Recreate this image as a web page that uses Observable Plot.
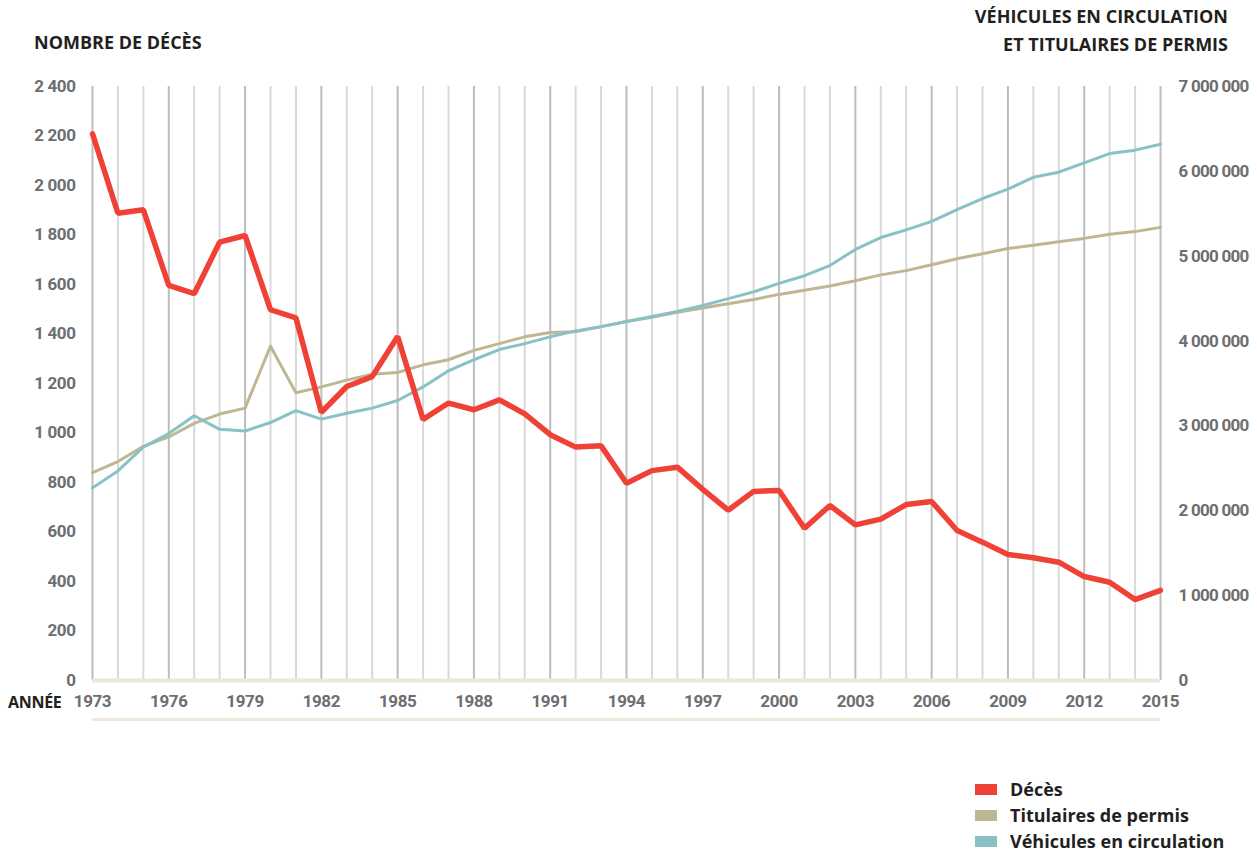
<!DOCTYPE html>
<html>
<head>
<meta charset="utf-8">
<script src="https://cdn.jsdelivr.net/npm/d3@7"></script>
<script src="https://cdn.jsdelivr.net/npm/@observablehq/plot@0.6"></script>
<style>
  html, body { margin: 0; padding: 0; background: #fff; }
  #wrap { position: relative; width: 1257px; height: 854px; background: #fff; font-family: "Open Sans", sans-serif; }
  #chart { position: absolute; left: 0; top: 0; }
  .title { position: absolute; font-weight: 700; font-size: 18px; color: #231f20; white-space: nowrap; }
  .legend { position: absolute; left: 975px; top: 776px; font-weight: 700; font-size: 18px; color: #231f20; }
  .legend div { display: flex; align-items: center; height: 26px; }
  .legend span.sw { display: inline-block; width: 22px; height: 11px; margin-right: 13px; }
  #band2 { position: absolute; left: 92px; top: 718px; width: 1068px; height: 3px; background: #eee8da; }
  #annee { position: absolute; left: 8px; top: 691px; font-family: "Open Sans", sans-serif; font-weight: 700; font-size: 16px; color: #231f20; letter-spacing: -0.3px; }
</style>
</head>
<body>
<div id="wrap">
  <div id="chart"></div>
  <div class="title" style="left:34px; top:30px;">NOMBRE DE DÉCÈS</div>
  <div class="title" style="right:29px; top:2px; text-align:right; line-height:28px;">VÉHICULES EN CIRCULATION<br>ET TITULAIRES DE PERMIS</div>
  <div id="annee">ANNÉE</div>
  <div id="band2"></div>
  <div class="legend" id="legend"></div>
</div>
<script>
const years = [1973,1974,1975,1976,1977,1978,1979,1980,1981,1982,1983,1984,1985,1986,1987,1988,1989,1990,1991,1992,1993,1994,1995,1996,1997,1998,1999,2000,2001,2002,2003,2004,2005,2006,2007,2008,2009,2010,2011,2012,2013,2014,2015];
const deces = [2209,1888,1902,1596,1563,1771,1798,1498,1465,1084,1188,1228,1390,1055,1121,1094,1134,1077,993,943,948,797,848,862,772,688,764,768,615,707,629,652,711,723,606,559,509,496,478,420,397,327,364];
const titulaires = [2450000,2580000,2760000,2870000,3030000,3140000,3210000,3940000,3390000,3460000,3540000,3610000,3630000,3720000,3780000,3890000,3970000,4050000,4100000,4110000,4170000,4230000,4280000,4340000,4390000,4440000,4490000,4550000,4600000,4650000,4710000,4780000,4830000,4900000,4970000,5030000,5090000,5130000,5170000,5210000,5260000,5290000,5340000];
const vehicules = [2270000,2470000,2750000,2910000,3120000,2960000,2940000,3040000,3180000,3080000,3150000,3210000,3300000,3460000,3650000,3780000,3900000,3970000,4050000,4120000,4170000,4230000,4290000,4350000,4420000,4500000,4580000,4680000,4770000,4890000,5080000,5220000,5310000,5410000,5550000,5680000,5790000,5930000,5990000,6100000,6210000,6250000,6320000];
const leftTicks = [0,200,400,600,800,1000,1200,1400,1600,1800,2000,2200,2400];
const rightTicks = [0,1000000,2000000,3000000,4000000,5000000,6000000,7000000];
const xTicks = [1973,1976,1979,1982,1985,1988,1991,1994,1997,2000,2003,2006,2009,2012,2015];
const seriesNames = ["Décès","Titulaires de permis","Véhicules en circulation"];
const seriesColors = ["#ef4136","#bfb793","#88c1c6"];

const leftMax = 2400, rightMax = 7000000;
const k = leftMax / rightMax;
const loc = d3.formatLocale({decimal: ",", thousands: " ", grouping: [3], currency: ["", ""]});
const fmt = loc.format(",");

const rows = years.map((y, i) => ({year: y, deces: deces[i], titulaires: titulaires[i] * k, vehicules: vehicules[i] * k}));

const tickFont = {fontFamily: "Roboto, sans-serif", fontWeight: 700, fontSize: 17, fill: "#6d6e70"};

const chart = Plot.plot({
  width: 1257,
  height: 730,
  marginLeft: 92,
  marginRight: 97,
  marginTop: 86,
  marginBottom: 50,
  style: {background: "transparent", fontFamily: "Roboto, sans-serif", letterSpacing: "-0.4px"},
  x: {domain: [1973, 2015]},
  y: {domain: [0, leftMax]},
  marks: [
    Plot.ruleX(years, {x: d => d, y1: 0, y2: leftMax, stroke: d => ((d - 1973) % 3 === 0 ? "#bdbdbd" : "#d9d9d9"), strokeWidth: 2}),
    Plot.ruleY([0], {stroke: "#eee8da", strokeWidth: 4}),
    Plot.axisY(leftTicks, {anchor: "left", tickSize: 0, tickPadding: 17, tickFormat: fmt, label: null, ...tickFont, textAnchor: "end"}),
    Plot.axisY(rightTicks.map(v => v * k), {anchor: "right", tickSize: 0, tickPadding: 18, tickFormat: d => fmt(Math.round(d / k)), label: null, ...tickFont}),
    Plot.axisX(xTicks, {tickSize: 0, tickPadding: 14, tickFormat: d => String(d), label: null, ...tickFont}),
    Plot.line(rows, {x: "year", y: "titulaires", stroke: seriesColors[1], strokeWidth: 3}),
    Plot.line(rows, {x: "year", y: "vehicules", stroke: seriesColors[2], strokeWidth: 3}),
    Plot.line(rows, {x: "year", y: "deces", stroke: seriesColors[0], strokeWidth: 5.5, strokeLinejoin: "miter"})
  ]
});
// condense the right-hand axis labels a little more
d3.select(chart).selectAll('g[aria-label="y-axis tick label"]').each(function() {
  if (this.getAttribute("text-anchor") === "start") this.style.letterSpacing = "-0.75px";
});
document.getElementById("chart").appendChild(chart);

const legend = document.getElementById("legend");
seriesNames.forEach((n, i) => {
  const row = document.createElement("div");
  row.innerHTML = `<span class="sw" style="background:${seriesColors[i]}"></span>${n}`;
  legend.appendChild(row);
});
</script>
</body>
</html>
